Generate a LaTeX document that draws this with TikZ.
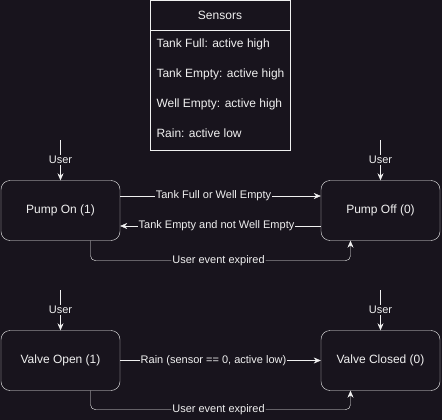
\documentclass[tikz,border=0pt]{standalone}
\usepackage{fontspec}
\setmainfont{Liberation Sans}
\usetikzlibrary{arrows.meta}
\definecolor{bg}{RGB}{24,20,29}
\definecolor{fg}{RGB}{240,240,240}

\begin{document}
\begin{tikzpicture}[x=1pt,y=-1pt,
	state/.style={draw=fg,fill=bg,rounded corners=9pt,minimum width=119pt,minimum height=60pt,text=fg,font=\fontsize{12}{14}\selectfont},
	lbl/.style={fill=bg,text=fg,inner sep=1pt,font=\fontsize{11}{13}\selectfont},
	item/.style={text=fg,anchor=west,font=\fontsize{12}{14}\selectfont},
	edge/.style={draw=fg,-{Stealth[length=7pt,width=6pt]}}]
	\fill[bg] (0,0) rectangle (442,420);
	% sensor list
	\draw[fg] (150,0.5) rectangle (290,150);
	\draw[fg] (150,30) -- (290,30);
	\node[text=fg,font=\fontsize{12}{14}\selectfont] (sens) at (220,15) {Sensors};
	\node[item] (full) at (153,44) {Tank Full: active high};
	\node[item] (empty) at (153,74) {Tank Empty: active high};
	\node[item] (well) at (153,104) {Well Empty: active high};
	\node[item] (rain) at (153,133) {Rain: active low};
	% pump
	\node[state] (on) at (60.5,210.5) {Pump On (1)};
	\node[state] (off) at (380.5,210.5) {Pump Off (0)};
	\coordinate (uon) at (60.5,140);
	\coordinate (uoff) at (380.5,140);
	\draw[edge] (uon) -- node[lbl] {User} (on);
	\draw[edge] (uoff) -- node[lbl] {User} (off);
	\draw[edge] ([yshift=14.5pt]on.east) -- node[lbl,xshift=-7pt] {Tank Full or Well Empty} ([yshift=14.5pt]off.west);
	\draw[edge] ([yshift=-15.5pt]off.west) -- node[lbl,xshift=-4pt] {Tank Empty and not Well Empty} ([yshift=-15.5pt]on.east);
	\draw[edge,rounded corners=5pt] ([xshift=30pt]on.south) -- ++(0,20) -| node[lbl,pos=0.25,xshift=-2pt] {User event expired} ([xshift=-30pt]off.south);
	% valve
	\node[state] (open) at (60.5,360.5) {Valve Open (1)};
	\node[state] (closed) at (380.5,360.5) {Valve Closed (0)};
	\coordinate (uopen) at (60.5,290);
	\coordinate (uclosed) at (380.5,290);
	\draw[edge] (uopen) -- node[lbl] {User} (open);
	\draw[edge] (uclosed) -- node[lbl] {User} (closed);
	\draw[edge] (open) -- node[lbl,xshift=-7pt] {Rain (sensor == 0, active low)} (closed);
	\draw[edge,rounded corners=5pt] ([xshift=30pt]open.south) -- ++(0,19) -| node[lbl,pos=0.25,xshift=-2pt] {User event expired} ([xshift=-30pt]closed.south);
\end{tikzpicture}
\end{document}
